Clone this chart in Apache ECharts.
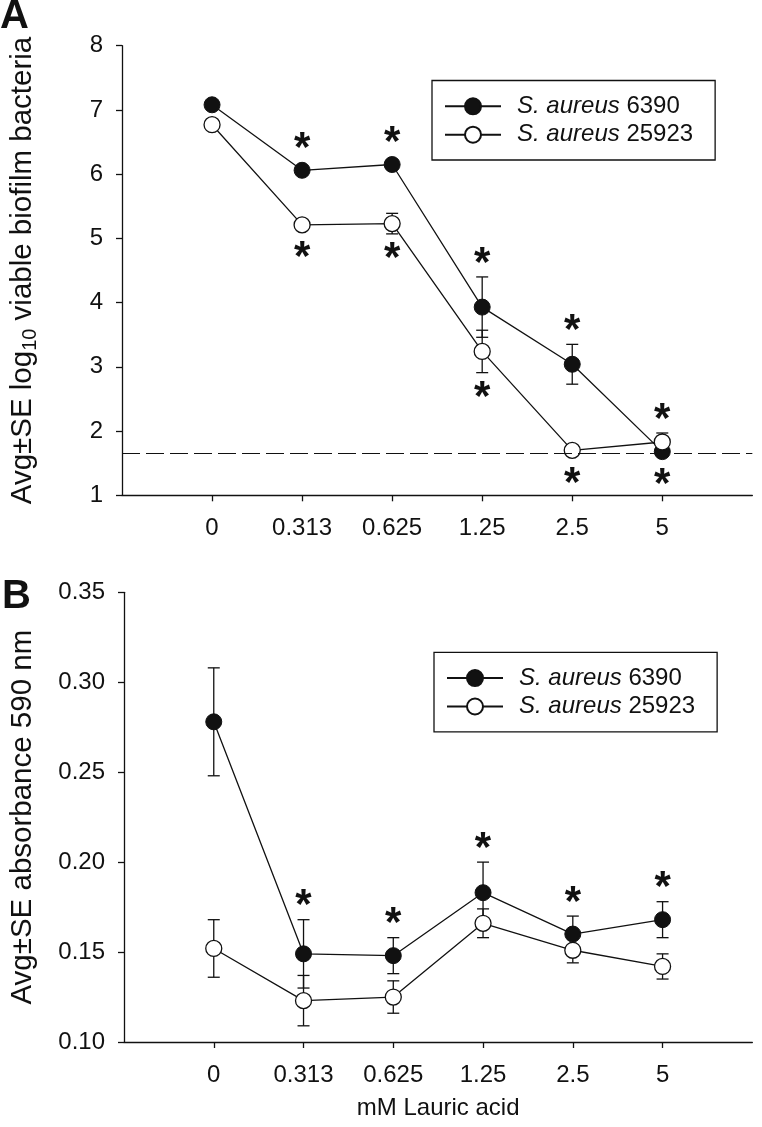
<!DOCTYPE html>
<html>
<head>
<meta charset="utf-8">
<script src="https://cdn.jsdelivr.net/npm/echarts@6/dist/echarts.min.js"></script>
<style>
  html, body { margin: 0; padding: 0; background: #fff; }
  #chart { width: 762px; height: 1127px; }
</style>
</head>
<body>
<div id="chart"></div>
<script>
// lauric acid doses (x categories)
const doses = ['0', '0.313', '0.625', '1.25', '2.5', '5'];
const xCats = [' '].concat(doses, ['  ']);

const strains = ['S. aureus 6390', 'S. aureus 25923'];

// panel A: log10 viable biofilm bacteria
const aMean6390 = [7.08, 6.06, 6.15, 3.93, 3.04, 1.68];
const aSe6390 = [0.05, 0.06, 0.06, 0.47, 0.31, 0.05];
const aMean25923 = [6.77, 5.21, 5.23, 3.24, 1.70, 1.83];
const aSe25923 = [0.05, 0.06, 0.16, 0.33, 0.05, 0.14];
const aDetectionLimit = 1.66;
// significance stars: 1 = above the point, -1 = below, 0 = none
const aStars6390 = [0, 1, 1, 1, 1, -1];
const aStars25923 = [0, -1, -1, -1, -1, 1];

// panel B: absorbance 590 nm
const bMean6390 = [0.278, 0.149, 0.148, 0.183, 0.160, 0.168];
const bSe6390 = [0.030, 0.019, 0.010, 0.017, 0.010, 0.010];
const bMean25923 = [0.152, 0.123, 0.125, 0.166, 0.151, 0.142];
const bSe25923 = [0.016, 0.014, 0.009, 0.008, 0.007, 0.007];
const bStars6390 = [0, 1, 1, 1, 1, 1];

const INK = '#111';
const FONT = 'Liberation Sans, Arial, sans-serif';
const MARK = 16;

function errRender(params, api) {
    const x = api.value(0);
    const top = api.coord([x, api.value(2)]);
    const bot = api.coord([x, api.value(1)]);
    const w = 6;
    const style = { stroke: INK, lineWidth: 1.3, fill: null };
    return {
        type: 'group',
        children: [
            { type: 'line', shape: { x1: top[0], y1: top[1], x2: bot[0], y2: bot[1] }, style: style },
            { type: 'line', shape: { x1: top[0] - w, y1: top[1], x2: top[0] + w, y2: top[1] }, style: style },
            { type: 'line', shape: { x1: bot[0] - w, y1: bot[1], x2: bot[0] + w, y2: bot[1] }, style: style }
        ]
    };
}

function starRender(params, api) {
    const x = api.value(0), m = api.value(1), se = api.value(2), dir = api.value(3);
    if (!dir) return null;
    const c = api.coord([x, m]);
    let y;
    if (dir > 0) {
        const t = api.coord([x, m + se])[1];
        y = Math.min(t, c[1] - MARK / 2) - 24;
    } else {
        const b = api.coord([x, m - se])[1];
        y = Math.max(b, c[1] + MARK / 2) + 15;
    }
    // asterisk sits high in its line box, push the box down to centre the glyph
    return {
        type: 'text',
        x: c[0],
        y: y + 11,
        style: { text: '*', fontSize: 42, fontWeight: 'bold', fontFamily: FONT, fill: INK, align: 'center', verticalAlign: 'middle' }
    };
}

function errData(mean, se) {
    return doses.map((d, i) => [d, mean[i] - se[i], mean[i] + se[i]]);
}
function starData(mean, se, stars) {
    return doses.map((d, i) => [d, mean[i], se[i], stars[i]]);
}
function pts(mean) {
    return doses.map((d, i) => [d, mean[i]]);
}

function errSeries(idx, mean, se) {
    return { type: 'custom', xAxisIndex: idx, yAxisIndex: idx, z: 1, silent: true,
        renderItem: errRender, encode: { x: 0, y: [1, 2] }, data: errData(mean, se) };
}
function starSeries(idx, mean, se, stars) {
    return { type: 'custom', xAxisIndex: idx, yAxisIndex: idx, z: 4, silent: true,
        renderItem: starRender, encode: { x: 0, y: 1 }, data: starData(mean, se, stars) };
}
function lineSeries(idx, name, mean, filled, extra) {
    return Object.assign({
        type: 'line', name: name, xAxisIndex: idx, yAxisIndex: idx, z: 3,
        symbol: 'circle', symbolSize: MARK, showAllSymbol: true,
        lineStyle: { color: INK, width: 1.3 },
        itemStyle: filled ? { color: INK, borderColor: INK, borderWidth: 1 }
                           : { color: '#fff', borderColor: INK, borderWidth: 1.3 },
        emphasis: { disabled: true },
        data: pts(mean)
    }, extra || {});
}

function xAxis(idx, name) {
    return {
        type: 'category', gridIndex: idx, data: xCats, boundaryGap: false,
        axisLine: { lineStyle: { color: INK, width: 1.3 } },
        axisTick: { inside: false, length: 6, lineStyle: { color: INK, width: 1.3 },
            interval: (i) => i > 0 && i < xCats.length - 1 },
        axisLabel: { interval: 0, margin: 21, fontSize: 24, color: INK, fontFamily: FONT },
        splitLine: { show: false },
        name: name || '', nameLocation: 'middle', nameGap: 54,
        nameTextStyle: { fontSize: 24, color: INK, fontFamily: FONT }
    };
}

function yAxis(idx, min, max, interval, name, gap, fmt) {
    return {
        type: 'value', gridIndex: idx, min: min, max: max, interval: interval,
        axisLine: { show: true, lineStyle: { color: INK, width: 1.3 } },
        axisTick: { show: true, length: 6, lineStyle: { color: INK, width: 1.3 } },
        axisLabel: { margin: 19, fontSize: 24, color: INK, fontFamily: FONT, formatter: fmt },
        splitLine: { show: false },
        name: name, nameLocation: 'middle', nameGap: gap,
        nameTextStyle: {
            fontSize: 29, color: INK, fontFamily: FONT,
            rich: {
                t: { fontSize: 29.5, fontFamily: FONT, color: INK, lineHeight: 32, verticalAlign: 'top' },
                sub: { fontSize: 20, fontFamily: FONT, color: INK, lineHeight: 20, verticalAlign: 'bottom' }
            }
        }
    };
}

function legend(left, top) {
    return {
        left: left, top: top, orient: 'vertical',
        data: strains,
        selectedMode: false,
        itemWidth: 56, itemHeight: 20, itemGap: 4.4,
        padding: [13.8, 22, 13.3, 12],
        borderColor: INK, borderWidth: 1.3,
        formatter: (n) => '{i|S. aureus} {n|' + n.slice(10) + '}',
        textStyle: {
            fontSize: 24, color: INK, fontFamily: FONT,
            rich: {
                i: { fontSize: 24, fontStyle: 'italic', fontFamily: FONT, color: INK, lineHeight: 26, padding: [0, 0, 0, 11] },
                n: { fontSize: 24, fontFamily: FONT, color: INK, lineHeight: 26 }
            }
        }
    };
}

const chart = echarts.init(document.getElementById('chart'), null, { renderer: 'canvas' });

chart.setOption({
    animation: false,
    backgroundColor: '#fff',
    title: [
        { text: 'A', left: 0, top: -3, padding: 0, textStyle: { fontSize: 40, fontWeight: 'bold', color: INK, fontFamily: FONT } },
        { text: 'B', left: 2, top: 577, padding: 0, textStyle: { fontSize: 40, fontWeight: 'bold', color: INK, fontFamily: FONT } }
    ],
    grid: [
        { left: 116, right: 4, top: 45.7, bottom: 631.7 },
        { left: 118.6, right: 1.4, top: 592.3, bottom: 85 }
    ],
    legend: [legend(432, 80.5), legend(434, 652.3)],
    xAxis: [xAxis(0), xAxis(1, 'mM Lauric acid')],
    yAxis: [
        yAxis(0, 1, 8, 1, '{t|Avg±SE log}{sub|10}{t| viable biofilm bacteria}', 82, (v) => String(v)),
        yAxis(1, 0.10, 0.35, 0.05, '{t|Avg±SE absorbance 590 nm}', 84, (v) => v.toFixed(2))
    ],
    series: [
        errSeries(0, aMean6390, aSe6390),
        errSeries(0, aMean25923, aSe25923),
        lineSeries(0, strains[0], aMean6390, true, {
            markLine: {
                silent: true, symbol: 'none', label: { show: false },
                lineStyle: { color: INK, width: 1.2, type: [18, 6] },
                emphasis: { disabled: true },
                data: [{ yAxis: aDetectionLimit }]
            }
        }),
        lineSeries(0, strains[1], aMean25923, false),
        starSeries(0, aMean6390, aSe6390, aStars6390),
        starSeries(0, aMean25923, aSe25923, aStars25923),

        errSeries(1, bMean6390, bSe6390),
        errSeries(1, bMean25923, bSe25923),
        lineSeries(1, strains[0], bMean6390, true),
        lineSeries(1, strains[1], bMean25923, false),
        starSeries(1, bMean6390, bSe6390, bStars6390)
    ]
});
</script>
</body>
</html>
